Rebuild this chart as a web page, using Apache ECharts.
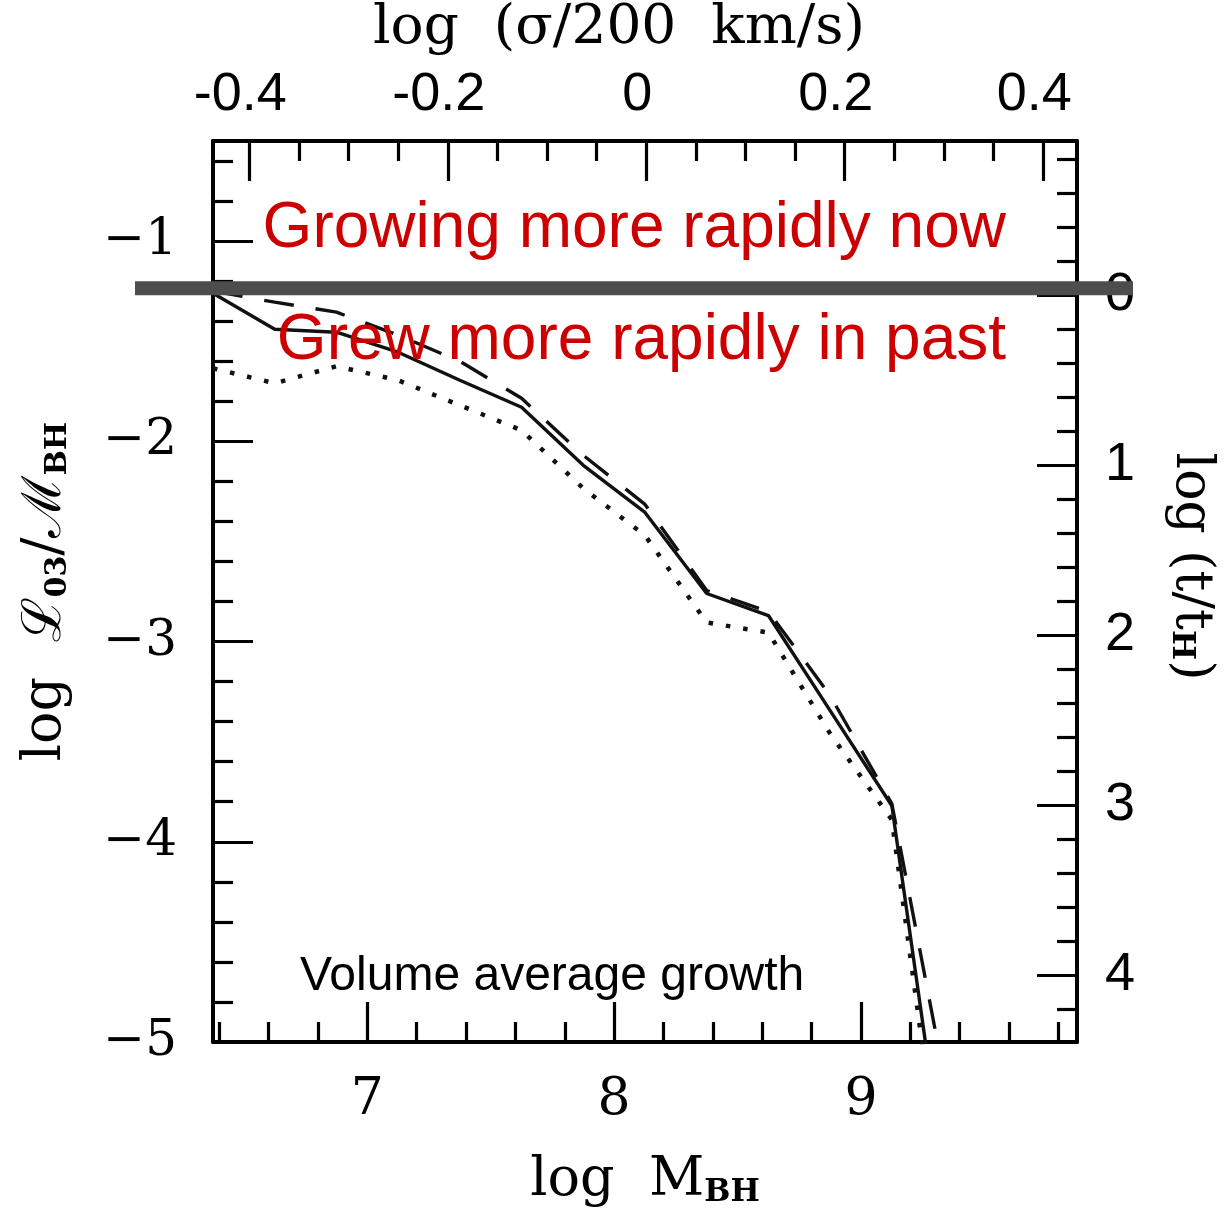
<!DOCTYPE html>
<html>
<head>
<meta charset="utf-8">
<script src="https://cdn.jsdelivr.net/npm/echarts@6/dist/echarts.min.js"></script>
<style>html,body{margin:0;padding:0;background:#fff}#c{width:1225px;height:1210px}</style>
</head>
<body>
<div id="c"></div>
<script>
// ---------------- data ----------------
const logM = [6.375, 6.625, 6.875, 7.125, 7.375, 7.625, 7.875, 8.125, 8.375, 8.625, 8.875, 9.125, 9.375];
const solidVals  = [-1.26, -1.44, -1.455, -1.555, -1.695, -1.83, -2.12, -2.355, -2.76, -2.87, -3.345, -3.82, -5.99];
const dashedVals = [-1.25, -1.305, -1.355, -1.47, -1.60, -1.785, -2.07, -2.315, -2.745, -2.85, -3.27, -3.81, -5.42];
const dottedVals = [-1.635, -1.71, -1.625, -1.695, -1.82, -1.945, -2.235, -2.47, -2.905, -2.955, -3.46, -3.89, -6.17];

const BOTTOM_MAJOR = [7, 8, 9];
const BOTTOM_MINOR = [6.4, 6.6, 6.8, 7.2, 7.4, 7.6, 7.8, 8.2, 8.4, 8.6, 8.8, 9.2, 9.4, 9.6, 9.8];
const TOP_MAJOR = [-0.4, -0.2, 0, 0.2, 0.4];
const TOP_LABELS = ['-0.4', '-0.2', '0', '0.2', '0.4'];
const TOP_MINOR = [-0.35, -0.3, -0.25, -0.15, -0.1, -0.05, 0.05, 0.1, 0.15, 0.25, 0.3, 0.35];
const LEFT_MAJOR = [-5, -4, -3, -2, -1];
const LEFT_LABELS = ['\u22125', '\u22124', '\u22123', '\u22122', '\u22121'];
const LEFT_MINOR = [-4.8, -4.6, -4.4, -4.2, -3.8, -3.6, -3.4, -3.2, -2.8, -2.6, -2.4, -2.2, -1.8, -1.6, -1.4, -1.2, -0.8, -0.6];
const RIGHT_MAJOR = [0, 1, 2, 3, 4];
const RIGHT_LABELS = ['0', '1', '2', '3', '4'];
const RIGHT_MINOR = [-0.8, -0.6, -0.4, -0.2, 0.2, 0.4, 0.6, 0.8, 1.2, 1.4, 1.6, 1.8, 2.2, 2.4, 2.6, 2.8, 3.2, 3.4, 3.6, 3.8, 4.2];

const XMIN = 6.375, XMAX = 9.875;
const YMIN = -5, YMAX = -0.5;
const MSIG_A = 8.13, MSIG_B = 4.02;          // log M = A + B log(sigma/200)
const SMIN = (XMIN - MSIG_A) / MSIG_B, SMAX = (XMAX - MSIG_A) / MSIG_B;
const RMIN = -0.906, RMAX = 4.394;
const GROWTH_LEVEL = -1.235;

const TEXT_NOW = 'Growing more rapidly now';
const TEXT_PAST = 'Grew more rapidly in past';
const TEXT_VOL = 'Volume average growth';

// ---------------- chart ----------------
const chart = echarts.init(document.getElementById('c'), null, {renderer: 'canvas'});
const pairs = vals => logM.map((x, i) => [x, vals[i]]);
const SERIF = '"DejaVu Serif", serif';
const SANS = '"Liberation Sans", Arial, sans-serif';
const BLACK = '#000';
const gridBox = {left: 213, right: 148, top: 141, bottom: 168, containLabel: false, outerBoundsMode: 'none'};

function majorTick(vals) {
  return {show: true, inside: true, length: 40, customValues: vals, lineStyle: {color: BLACK, width: 3.2}};
}
function minorTickAxis(extra, vals) {
  return Object.assign({
    type: 'value', gridIndex: 1,
    axisLine: {show: false, onZero: false},
    axisTick: {show: true, inside: true, length: 20, customValues: vals, lineStyle: {color: BLACK, width: 3.2}},
    axisLabel: {show: false}, splitLine: {show: false}
  }, extra);
}
const frameLine = {show: true, onZero: false, lineStyle: {color: BLACK, width: 4}};

const option = {
  animation: false,
  backgroundColor: '#fff',
  grid: [Object.assign({}, gridBox), Object.assign({}, gridBox)],
  xAxis: [
    {
      type: 'value', gridIndex: 0, position: 'bottom', min: XMIN, max: XMAX,
      axisLine: frameLine, axisTick: majorTick(BOTTOM_MAJOR), splitLine: {show: false},
      axisLabel: {customValues: BOTTOM_MAJOR, color: BLACK, fontFamily: SERIF, fontSize: 52, margin: 32},
      name: '{a|log  M}{s|BH}', nameLocation: 'middle', nameGap: 98,
      nameTextStyle: {color: BLACK, rich: {
        a: {fontFamily: SERIF, fontSize: 54, lineHeight: 68, verticalAlign: 'bottom', color: BLACK},
        s: {fontFamily: SERIF, fontSize: 31, fontWeight: 'bold', lineHeight: 30, verticalAlign: 'bottom', color: BLACK}
      }}
    },
    {
      type: 'value', gridIndex: 0, position: 'top', min: SMIN, max: SMAX,
      axisLine: frameLine, axisTick: majorTick(TOP_MAJOR), splitLine: {show: false},
      axisLabel: {customValues: TOP_MAJOR, color: BLACK, fontFamily: SANS, fontSize: 54, margin: 19,
        padding: [0, 18, 0, 0],
        formatter: v => TOP_LABELS[TOP_MAJOR.findIndex(t => Math.abs(t - v) < 1e-9)]},
      name: 'log  (\u03c3/200  km/s)', nameLocation: 'middle', nameGap: 85,
      nameTextStyle: {color: BLACK, fontFamily: SERIF, fontSize: 55, padding: [0, 52, 0, 0]}
    },
    minorTickAxis({position: 'bottom', min: XMIN, max: XMAX}, BOTTOM_MINOR),
    minorTickAxis({position: 'top', min: SMIN, max: SMAX}, TOP_MINOR)
  ],
  yAxis: [
    {
      type: 'value', gridIndex: 0, position: 'left', min: YMIN, max: YMAX,
      axisLine: frameLine, axisTick: majorTick(LEFT_MAJOR), splitLine: {show: false},
      axisLabel: {customValues: LEFT_MAJOR, color: BLACK, fontFamily: SERIF, fontSize: 50, margin: 36,
        formatter: v => LEFT_LABELS[LEFT_MAJOR.indexOf(Math.round(v))]},
      name: '{a|log  \u2112}{s|03}{a|/\u2133}{s|BH}', nameLocation: 'middle', nameGap: 140,
      nameTextStyle: {color: BLACK, rich: {
        a: {fontFamily: SERIF, fontSize: 54, lineHeight: 68, verticalAlign: 'bottom', color: BLACK},
        s: {fontFamily: SERIF, fontSize: 30, fontWeight: 'bold', lineHeight: 30, verticalAlign: 'bottom', color: BLACK}
      }}
    },
    {
      type: 'value', gridIndex: 0, position: 'right', min: RMIN, max: RMAX, inverse: true,
      axisLine: frameLine, axisTick: majorTick(RIGHT_MAJOR), splitLine: {show: false},
      axisLabel: {customValues: RIGHT_MAJOR, color: BLACK, fontFamily: SANS, fontSize: 54, margin: 28,
        padding: [22, 0, 0, 0],
        formatter: v => RIGHT_LABELS[RIGHT_MAJOR.indexOf(Math.round(v))]},
      name: '{a|log (t/t}{s|H}{a|)}', nameLocation: 'middle', nameGap: 88, nameRotate: -90,
      nameTextStyle: {color: BLACK, padding: [0, 50, 0, 0], rich: {
        a: {fontFamily: SERIF, fontSize: 52, lineHeight: 66, verticalAlign: 'bottom', color: BLACK},
        s: {fontFamily: SERIF, fontSize: 32, fontWeight: 'bold', lineHeight: 30, verticalAlign: 'bottom', color: BLACK}
      }}
    },
    minorTickAxis({position: 'left', min: YMIN, max: YMAX}, LEFT_MINOR),
    minorTickAxis({position: 'right', min: RMIN, max: RMAX, inverse: true}, RIGHT_MINOR)
  ],
  series: [
    {name: 'solid', type: 'line', xAxisIndex: 0, yAxisIndex: 0, data: pairs(solidVals), symbol: 'none', clip: true,
      lineStyle: {color: '#111', width: 3.4}},
    {name: 'dashed', type: 'line', xAxisIndex: 0, yAxisIndex: 0, data: pairs(dashedVals), symbol: 'none', clip: true,
      lineStyle: {color: '#111', width: 3.4, type: [30, 22]}},
    {name: 'dotted', type: 'line', xAxisIndex: 0, yAxisIndex: 0, data: pairs(dottedVals), symbol: 'none', clip: true,
      lineStyle: {color: '#111', width: 4.5, type: [4.5, 13]}}
  ]
};
chart.setOption(option);

const barY = chart.convertToPixel({yAxisIndex: 0}, GROWTH_LEVEL);
chart.setOption({
  graphic: [
    {type: 'rect', z: 100, shape: {x: 135, y: barY - 7, width: 998, height: 14}, style: {fill: '#4d4d4d'}},
    {type: 'text', z: 100, style: {text: TEXT_NOW, x: 1006, y: 229, fill: '#cc0000', font: '64px "Liberation Sans", Arial, sans-serif', textAlign: 'right', textVerticalAlign: 'middle'}},
    {type: 'text', z: 100, style: {text: TEXT_PAST, x: 1006, y: 341, fill: '#cc0000', font: '64px "Liberation Sans", Arial, sans-serif', textAlign: 'right', textVerticalAlign: 'middle'}},
    {type: 'text', z: 100, style: {text: TEXT_VOL, x: 300, y: 977, fill: '#000', font: '48px "Liberation Sans", Arial, sans-serif', textAlign: 'left', textVerticalAlign: 'middle'}}
  ]
});
</script>
</body>
</html>
